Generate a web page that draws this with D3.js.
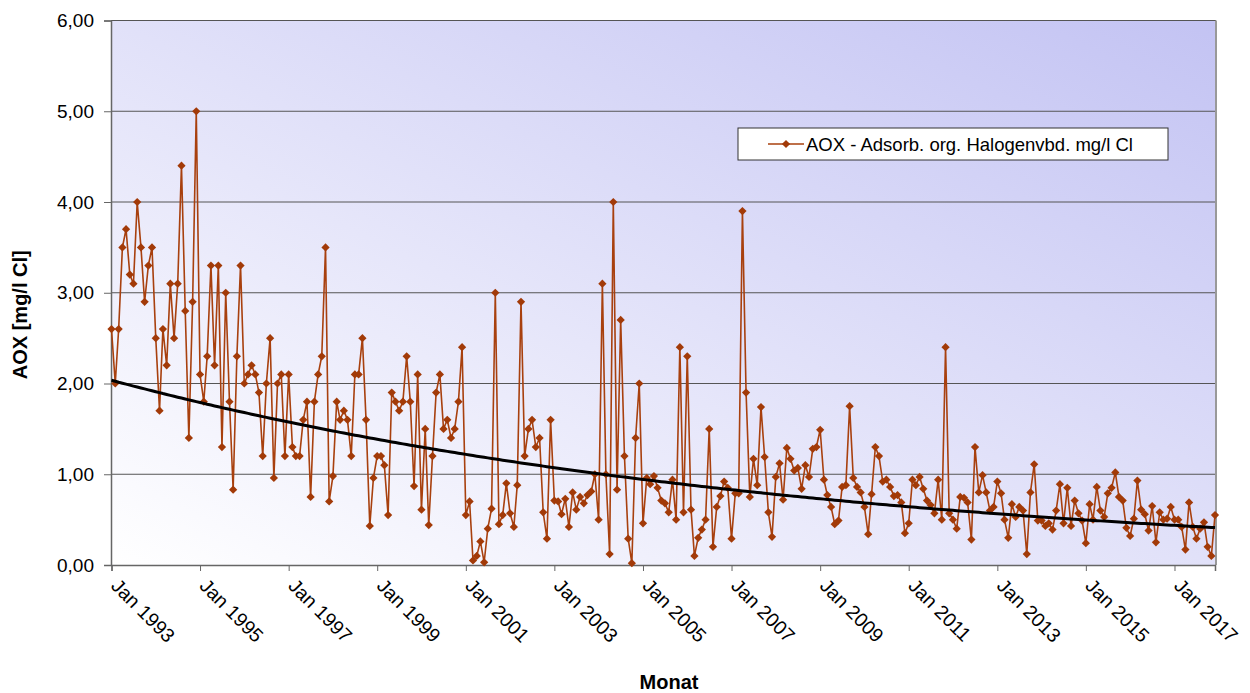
<!DOCTYPE html>
<meta charset="utf-8">
<style>
body { margin: 0; background: #fff; }
text { font-family: Arial, "Liberation Sans", sans-serif; }
</style>
<svg width="1250" height="693"></svg>
<script src="https://cdn.jsdelivr.net/npm/d3@7"></script>
<script>

// monthly AOX values (mg/l Cl), Jan 1993 .. Dec 2017
var aox1993_1997 = [2.6,2.0,2.6,3.5,3.7,3.2,3.1,4.0,3.5,2.9,3.3,3.5,
  2.5,1.7,2.6,2.2,3.1,2.5,3.1,4.4,2.8,1.4,2.9,5.0,
  2.1,1.8,2.3,3.3,2.2,3.3,1.3,3.0,1.8,0.83,2.3,3.3,
  2.0,2.1,2.2,2.1,1.9,1.2,2.0,2.5,0.96,2.0,2.1,1.2,
  2.1,1.3,1.2,1.2,1.6,1.8,0.75,1.8,2.1,2.3,3.5,0.7];
var aox1998_2002 = [0.98,1.8,1.6,1.7,1.6,1.2,2.1,2.1,2.5,1.6,0.43,0.96,
  1.2,1.2,1.1,0.55,1.9,1.8,1.7,1.8,2.3,1.8,0.87,2.1,
  0.61,1.5,0.44,1.2,1.9,2.1,1.5,1.6,1.4,1.5,1.8,2.4,
  0.55,0.7,0.05,0.1,0.26,0.03,0.4,0.62,3.0,0.45,0.55,0.9,
  0.57,0.42,0.88,2.9,1.2,1.5,1.6,1.3,1.4,0.58,0.29,1.6];
var aox2003_2007 = [0.71,0.7,0.56,0.73,0.42,0.8,0.61,0.75,0.68,0.77,0.81,1.0,
  0.5,3.1,1.0,0.12,4.0,0.83,2.7,1.2,0.29,0.02,1.4,2.0,
  0.46,0.96,0.89,0.98,0.85,0.71,0.68,0.58,0.94,0.5,2.4,0.58,
  2.3,0.61,0.1,0.3,0.39,0.5,1.5,0.2,0.64,0.76,0.92,0.85,
  0.29,0.79,0.79,3.9,1.9,0.75,1.17,0.88,1.74,1.19,0.58,0.31];
var aox2008_2012 = [0.97,1.12,0.72,1.29,1.17,1.04,1.07,0.84,1.1,0.97,1.28,1.3,
  1.49,0.94,0.77,0.64,0.45,0.49,0.86,0.88,1.75,0.96,0.86,0.8,
  0.64,0.34,0.78,1.3,1.2,0.92,0.94,0.86,0.76,0.77,0.69,0.35,
  0.46,0.94,0.88,0.97,0.84,0.71,0.66,0.57,0.94,0.5,2.4,0.57,
  0.5,0.4,0.75,0.74,0.69,0.28,1.3,0.8,0.99,0.8,0.6,0.64];
var aox2013_2017 = [0.92,0.79,0.5,0.3,0.67,0.53,0.64,0.6,0.12,0.8,1.11,0.49,
  0.49,0.43,0.46,0.39,0.6,0.89,0.46,0.85,0.43,0.71,0.57,0.49,
  0.24,0.67,0.5,0.86,0.6,0.53,0.79,0.85,1.02,0.75,0.71,0.41,
  0.32,0.51,0.93,0.61,0.56,0.38,0.65,0.25,0.58,0.5,0.51,0.64,
  0.5,0.5,0.42,0.17,0.69,0.42,0.29,0.4,0.47,0.2,0.1,0.55];

var yTicks = [0, 1, 2, 3, 4, 5, 6];
var xTickYears = [1993,1995,1997,1999,2001,2003,2005,2007,2009,2011,2013,2015,2017];
var seriesName = "AOX - Adsorb. org. Halogenvbd. mg/l Cl";

var values = [].concat(aox1993_1997, aox1998_2002, aox2003_2007, aox2008_2012, aox2013_2017);
var months = d3.timeMonth.range(new Date(1993, 0, 1), new Date(2018, 0, 1));
var data = months.map(function(m, i) { return {date: m, v: values[i]}; });

var svg = d3.select("svg");
var pL = 111, pR = 1216, pT = 20.5, pB = 565;

var x = d3.scaleTime()
    .domain([months[0], months[months.length - 1]])
    .range([pL + 0.5, pR - 1]);
var y = d3.scaleLinear().domain([0, 6]).range([pB, pT]);

var defs = svg.append("defs");
var grad = defs.append("linearGradient").attr("id", "bg")
    .attr("x1", 0).attr("y1", 1).attr("x2", 1).attr("y2", 0);
grad.append("stop").attr("offset", "0%").attr("stop-color", "#ffffff");
grad.append("stop").attr("offset", "100%").attr("stop-color", "#c3c3f3");

svg.append("rect")
    .attr("x", pL).attr("y", pT)
    .attr("width", pR - pL).attr("height", pB - pT)
    .attr("fill", "url(#bg)");

// grid
svg.selectAll(".grid").data(yTicks.slice(1))
  .enter().append("line")
    .attr("x1", pL).attr("x2", pR)
    .attr("y1", function(d) { return y(d); })
    .attr("y2", function(d) { return y(d); })
    .attr("stroke", "#555").attr("stroke-width", 1);

// right border
svg.append("line")
    .attr("x1", pR).attr("x2", pR).attr("y1", pT).attr("y2", pB)
    .attr("stroke", "#999").attr("stroke-width", 2);

// y axis
var yAxis = svg.append("g")
    .attr("transform", "translate(" + pL + ",0)")
    .call(d3.axisLeft(y).tickValues(yTicks).tickSize(7).tickPadding(10)
      .tickFormat(function(d) { return d3.format(".2f")(d).replace(".", ","); }));
yAxis.select(".domain").attr("stroke", "#666").attr("stroke-width", 1.5);
yAxis.selectAll(".tick line").attr("stroke", "#666");
yAxis.selectAll("text").attr("font-size", 19).attr("fill", "#000")
    .style("font-family", "Arial, 'Liberation Sans', sans-serif");

// x axis
var xAxis = svg.append("g")
    .attr("transform", "translate(0," + pB + ")")
    .call(d3.axisBottom(x)
      .tickValues(xTickYears.map(function(yr) { return new Date(yr, 0, 1); }))
      .tickSize(6)
      .tickFormat(function(d) { return "Jan " + d.getFullYear(); }));
xAxis.select(".domain").attr("stroke", "#666").attr("stroke-width", 1.5);
xAxis.selectAll(".tick line").attr("stroke", "#666");
xAxis.selectAll("text")
    .attr("font-size", 19.5).attr("fill", "#000")
    .style("font-family", "Arial, 'Liberation Sans', sans-serif")
    .attr("text-anchor", "start")
    .attr("dy", 0).attr("y", 0)
    .attr("transform", "translate(-2,22) rotate(45)");

// trend line: exponential fit (least squares on ln v), as spreadsheet trendline
var n = 0, sx = 0, sy = 0, sxx = 0, sxy = 0;
data.forEach(function(d, t) {
  if (d.v <= 0) return;
  var l = Math.log(d.v);
  n++; sx += t; sy += l; sxx += t * t; sxy += t * l;
});
var b = (n * sxy - sx * sy) / (n * sxx - sx * sx);
var a = Math.exp((sy - b * sx) / n);

var line = d3.line().x(function(d) { return x(d.date); }).y(function(d) { return y(d.v); });

svg.append("path")
    .datum(data)
    .attr("fill", "none")
    .attr("stroke", "#a8400e")
    .attr("stroke-width", 1.6)
    .attr("d", line);

var sym = d3.symbol().type(d3.symbolSquare).size(34);
svg.selectAll(".pt").data(data)
  .enter().append("path")
    .attr("d", sym)
    .attr("fill", "#a23a08")
    .attr("transform", function(d) { return "translate(" + x(d.date) + "," + y(d.v) + ") rotate(45)"; });

svg.append("path")
    .datum(data.map(function(d, i) { return {date: d.date, v: a * Math.exp(b * i)}; }))
    .attr("fill", "none")
    .attr("stroke", "#000")
    .attr("stroke-width", 3)
    .attr("d", line);

// legend
var lg = svg.append("g").attr("transform", "translate(738,128)");
lg.append("rect").attr("width", 430).attr("height", 32)
    .attr("fill", "#fff").attr("stroke", "#333").attr("stroke-width", 1);
lg.append("line").attr("x1", 30).attr("x2", 66).attr("y1", 16).attr("y2", 16)
    .attr("stroke", "#a8400e").attr("stroke-width", 1.6);
lg.append("path").attr("d", sym).attr("fill", "#a23a08")
    .attr("transform", "translate(48,16) rotate(45)");
lg.append("text").attr("x", 68).attr("y", 22.5)
    .attr("font-size", 18.5).text(seriesName);

// titles
svg.append("text")
    .attr("transform", "translate(27," + ((pT + pB) / 2 + 22) + ") rotate(-90)")
    .attr("text-anchor", "middle")
    .attr("font-size", 20).attr("font-weight", "bold")
    .text("AOX [mg/l Cl]");
svg.append("text")
    .attr("x", 669).attr("y", 689)
    .attr("text-anchor", "middle")
    .attr("font-size", 20).attr("font-weight", "bold")
    .text("Monat");

</script>
